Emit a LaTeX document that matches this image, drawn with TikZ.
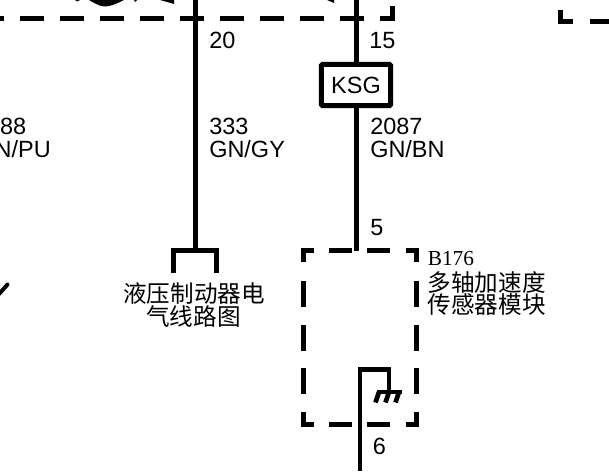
\documentclass[tikz,border=0pt]{standalone}
\usepackage{fontspec}
\setmainfont{Liberation Sans}
\newfontfamily\serifpart{Liberation Serif}
\newfontfamily\cjk{Noto Sans CJK SC}
\usetikzlibrary{
  positioning,
  calc
}
\tikzset{
  wire/.style={line width=3.75pt},
  thinwire/.style={line width=3.5pt},
  pinlabel/.style={anchor=base west, inner sep=0pt, font=\fontsize{17.6}{18}\selectfont},
  cjklabel/.style={inner sep=0pt, font=\cjk\fontsize{17.7}{18}\selectfont},
  fusebox/.style={draw, line width=3.75pt, rounded corners=0.8pt, minimum width=51.8pt, minimum height=30.8pt, inner sep=0pt, font=\fontsize{17.6}{18}\selectfont}
}

\begin{document}
\begin{tikzpicture}[x=0.75pt, y=-0.75pt]
  \useasboundingbox (0,0) rectangle (609,471);

  % Top module edge
  \draw[wire] (0,18) -- (4,18);
  \foreach \x in {20,60,...,340} {
    \draw[wire] (\x,18) -- ++(24,0);
  }
  \draw[wire] (380,18) -- (392.5,18) -- (392.5,6);
  \draw[wire] (560.5,10) -- (560.5,21.5) -- (573,21.5);
  \draw[wire] (590,21.5) -- (609,21.5);

  % Fragments of the symbols above
  \fill (89,0) .. controls (96,4) and (100,6.5) .. (105,6.5) .. controls (110,6.5) and (116,4) .. (124,0) -- cycle;
  \fill (75,0) -- (80,0) -- (77,1.5) -- cycle;
  \fill (134,0) -- (137,0) -- (135,2) -- cycle;
  \fill (160,0) -- (174,0) -- (174,4) -- cycle;
  \fill (327,0) -- (334,0) -- (334,3) -- cycle;
  \draw[line width=3pt, line cap=round] (-1,294) -- (7.5,284.5);

  % Hydraulic brake wire
  \coordinate (top1) at (195.5,0);
  \coordinate (fork) at (195.5,250.5);
  \coordinate (forkl) at (173.5,272.5);
  \coordinate (forkr) at (216.5,272.5);
  \draw[wire] (top1) -- (fork);
  \draw[wire] (forkl) -- (forkl |- fork) -- (forkr |- fork) -- (forkr);
  \node[pinlabel] (pin20) at (209,48) {20};
  \node[pinlabel] (num333) at (209,134.5) {333};
  \node[pinlabel] (col333) at (209,157.7) {GN/GY};
  \node[cjklabel] (brake1) at (194,293) {液压制动器电};
  \node[cjklabel] (brake2) at (193.5,316.5) {气线路图};

  % Left wire labels
  \node[pinlabel, anchor=base east] (num88) at (26.5,134.5) {88};
  \node[pinlabel, anchor=base east] (colpu) at (51,157.7) {N/PU};

  % Sensor wire
  \coordinate (top2) at (356.6,0);
  \coordinate (pin5) at (356.6,250.5);
  \node[fusebox] (ksg) at (356,85) {KSG};
  \draw[wire] (top2) -- (top2 |- ksg.north);
  \draw[wire] (top2 |- ksg.south) -- (pin5);
  \node[pinlabel] (pin15) at (369,48) {15};
  \node[pinlabel] (num2087) at (370,134.5) {2087};
  \node[pinlabel] (col2087) at (370,157.7) {GN/BN};
  \node[pinlabel] (lab5) at (370,235) {5};

  % Sensor module outline
  \draw[wire] (303.5,262) -- (303.5,250) -- (314,250);
  \draw[wire] (405.5,250) -- (416.5,250) -- (416.5,262);
  \draw[wire] (303.5,412) -- (303.5,424.7) -- (314,424.7);
  \draw[wire] (405.5,424.7) -- (416.5,424.7) -- (416.5,412);
  \foreach \x in {329,367} {
    \draw[wire] (\x,250) -- ++(23,0);
    \draw[wire] (\x,424.7) -- ++(23,0);
  }
  \foreach \y in {281,325,368} {
    \draw[wire] (303.5,\y) -- ++(0,25.5);
    \draw[wire] (416.5,\y) -- ++(0,25.5);
  }
  \node[pinlabel, font=\serifpart\fontsize{16}{18}\selectfont] (b176) at (427.5,265.7) {B176};
  \node[cjklabel, anchor=west] (name1) at (427.5,282) {多轴加速度};
  \node[cjklabel, anchor=west] (name2) at (427.5,305) {传感器模块};

  % Ground inside the module
  \coordinate (bottom) at (360,471);
  \coordinate (gnd) at (389,392);
  \draw[thinwire] (bottom) -- (360,369.8) -- (389,369.8) -- (gnd);
  \draw[thinwire] (377,392) -- (401.5,392);
  \foreach \x in {379,389,399} {
    \draw[thinwire] (\x,392) -- ++(-3.5,10.5);
  }
  \node[pinlabel] (pin6) at (372.5,454) {6};
\end{tikzpicture}
\end{document}
